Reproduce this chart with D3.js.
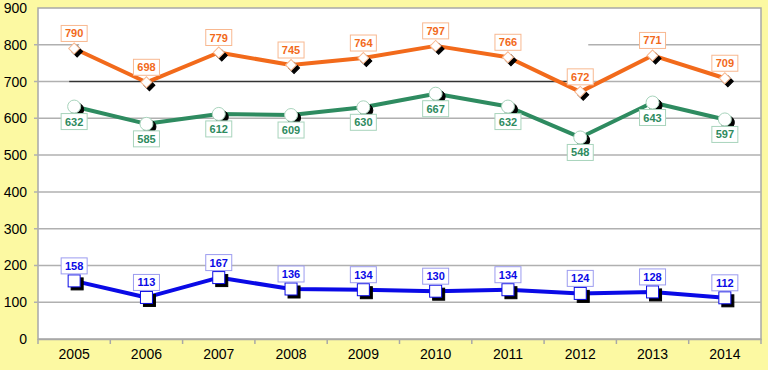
<!DOCTYPE html>
<html>
<head>
<meta charset="utf-8">
<script src="https://cdn.jsdelivr.net/npm/d3@7"></script>
<style>
  body { margin: 0; background: #fcf9a2; }
  svg { display: block; font-family: "Liberation Sans", Arial, Helvetica, sans-serif; }
  .lbl { font-size: 11px; font-weight: bold; }
</style>
</head>
<body>
<div id="root"></div>
<script>
const years = ["2005", "2006", "2007", "2008", "2009", "2010", "2011", "2012", "2013", "2014"];
const orangeValues = [790, 698, 779, 745, 764, 797, 766, 672, 771, 709];
const greenValues = [632, 585, 612, 609, 630, 667, 632, 548, 643, 597];
const blueValues = [158, 113, 167, 136, 134, 130, 134, 124, 128, 112];
const yTicks = [0, 100, 200, 300, 400, 500, 600, 700, 800, 900];

const w = 768;
const h = 370;
const plotLeft = 38;
const plotRight = 761;
const plotTop = 8;
const plotBottom = 339;

const xScale = d3.scaleBand().domain(years).range([plotLeft, plotRight]);
const yScale = d3.scaleLinear().domain([0, 900]).range([plotBottom, plotTop]);
const cx = d => xScale(d) + xScale.bandwidth() / 2;

const svg = d3.select("#root")
    .append("svg")
    .attr("width", w)
    .attr("height", h);

// plot area
svg.append("rect")
    .attr("x", plotLeft)
    .attr("y", plotTop)
    .attr("width", plotRight - plotLeft)
    .attr("height", plotBottom - plotTop)
    .attr("fill", "#fff")
    .attr("stroke", "#a8a8a8")
    .attr("stroke-width", 1.5);

// gridlines (800 and 700 are drawn oddly in the original)
const grid = svg.append("g").attr("stroke", "#b0b0b0").attr("stroke-width", 1.5);
yTicks.filter(v => v > 0 && v < 900 && v !== 800 && v !== 700).forEach(v => {
    grid.append("line")
        .attr("x1", plotLeft - 4).attr("x2", plotRight)
        .attr("y1", yScale(v)).attr("y2", yScale(v));
});
grid.append("line")
    .attr("x1", plotLeft - 4).attr("x2", cx("2005") + 5)
    .attr("y1", yScale(800)).attr("y2", yScale(800));
grid.append("line")
    .attr("x1", cx("2012") + 8).attr("x2", plotRight)
    .attr("y1", yScale(800)).attr("y2", yScale(800));
grid.append("line")
    .attr("x1", plotLeft - 4).attr("x2", cx("2005") - 5)
    .attr("y1", yScale(700)).attr("y2", yScale(700));
grid.append("line")
    .attr("x1", cx("2012") + 8).attr("x2", plotRight)
    .attr("y1", yScale(700)).attr("y2", yScale(700));
svg.append("line")
    .attr("x1", cx("2005") - 5).attr("x2", cx("2012") - 12)
    .attr("y1", yScale(700)).attr("y2", yScale(700))
    .attr("stroke", "#333").attr("stroke-width", 1.5);

// y-axis labels
const yAxis = d3.axisLeft(yScale).tickValues(yTicks).tickSize(0).tickPadding(11);
const yg = svg.append("g")
    .attr("transform", "translate(" + plotLeft + ",0)")
    .call(yAxis);
yg.select(".domain").remove();
yg.selectAll("text").style("font-size", "14px").attr("fill", "#000")
    .attr("font-family", "Liberation Sans, Arial, sans-serif");

// x-axis
const xg = svg.append("g")
    .attr("transform", "translate(0," + plotBottom + ")")
    .call(d3.axisBottom(xScale).tickSize(0).tickPadding(10));
xg.select(".domain").attr("stroke", "#a8a8a8").attr("stroke-width", 1.5);
xg.selectAll("text").style("font-size", "14px").attr("fill", "#000")
    .attr("font-family", "Liberation Sans, Arial, sans-serif");
// tick marks between categories
svg.append("g").selectAll("line")
    .data(years.concat(["end"]))
    .enter()
    .append("line")
    .attr("x1", (d, i) => plotLeft + i * xScale.step())
    .attr("x2", (d, i) => plotLeft + i * xScale.step())
    .attr("y1", plotBottom)
    .attr("y2", plotBottom + 5)
    .attr("stroke", "#a8a8a8")
    .attr("stroke-width", 1.5);

const series = [
    { values: orangeValues, color: "#f26a1b", light: "#f8b890", shape: "diamond", above: true },
    { values: greenValues, color: "#2e8b60", light: "#a8d4bc", shape: "circle", above: false },
    { values: blueValues, color: "#0a0ae6", light: "#9c9cf0", shape: "square", above: true }
];

const line = d3.line()
    .x((d, i) => cx(years[i]))
    .y(d => yScale(d));

function marker(g, shape, x, y, fill, stroke) {
    if (shape === "diamond") {
        g.append("path")
            .attr("d", d3.symbol(d3.symbolSquare, 60)())
            .attr("transform", "translate(" + x + "," + y + ") rotate(45)")
            .attr("fill", fill).attr("stroke", stroke).attr("stroke-width", 1);
    } else if (shape === "circle") {
        g.append("circle")
            .attr("cx", x).attr("cy", y).attr("r", 6.5)
            .attr("fill", fill).attr("stroke", stroke).attr("stroke-width", 1);
    } else {
        g.append("rect")
            .attr("x", x - 6).attr("y", y - 6)
            .attr("width", 12).attr("height", 12)
            .attr("fill", fill).attr("stroke", stroke).attr("stroke-width", 1);
    }
}

series.forEach(s => {
    svg.append("path")
        .datum(s.values)
        .attr("d", line)
        .attr("fill", "none")
        .attr("stroke", s.color)
        .attr("stroke-width", 4)
        .attr("stroke-linejoin", "round");
});

series.forEach(s => {
    const g = svg.append("g");
    s.values.forEach((v, i) => {
        const x = cx(years[i]);
        const y = yScale(v);
        marker(g, s.shape, x + 3, y + 3, "#000", "#000");
        marker(g, s.shape, x, y, "#fff", s.color === "#0a0ae6" ? s.color : s.light);
    });
});

// data labels
series.forEach(s => {
    const g = svg.append("g");
    s.values.forEach((v, i) => {
        const x = cx(years[i]);
        const ly = yScale(v) + (s.above ? -15 : 15);
        g.append("rect")
            .attr("x", x - 13).attr("y", ly - 8)
            .attr("width", 26).attr("height", 16)
            .attr("fill", "#fff")
            .attr("stroke", s.light)
            .attr("stroke-width", 1);
        g.append("text")
            .attr("class", "lbl")
            .attr("x", x).attr("y", ly + 4)
            .attr("text-anchor", "middle")
            .attr("fill", s.color)
            .text(v);
    });
});
</script>
</body>
</html>
